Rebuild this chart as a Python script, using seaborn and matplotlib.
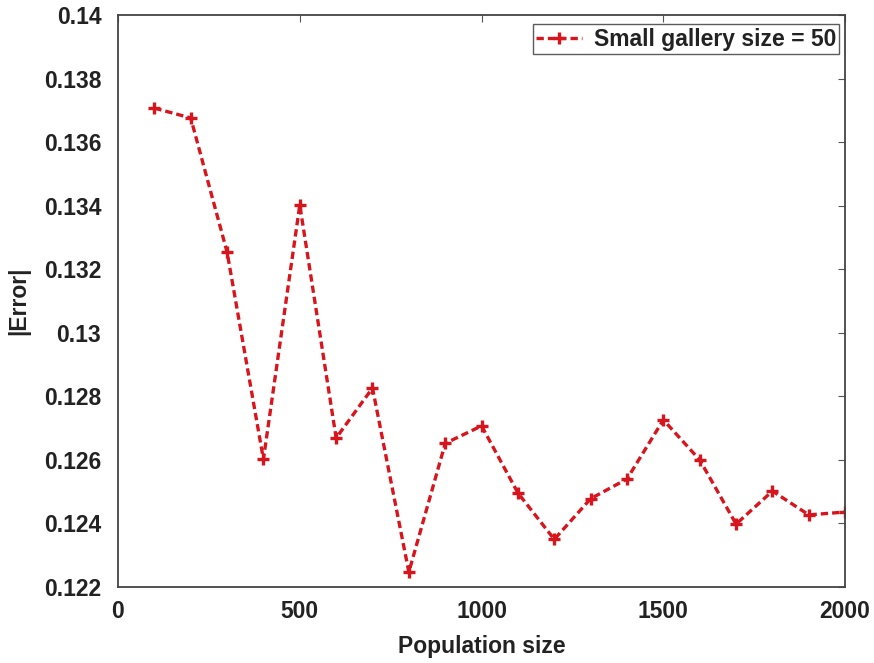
import matplotlib
matplotlib.use("Agg")
import matplotlib.pyplot as plt
import seaborn as sns
import pandas as pd

population_size = [100, 200, 300, 400, 500, 600, 700, 800, 900, 1000,
                   1100, 1200, 1300, 1400, 1500, 1600, 1700, 1800, 1900, 2000]
error_values = [0.13707, 0.13676, 0.13254, 0.12602, 0.13402, 0.12669, 0.12826, 0.12247, 0.12652, 0.12707,
                0.12496, 0.12350, 0.12478, 0.12540, 0.12726, 0.12600, 0.12398, 0.12502, 0.12427, 0.12436]
series_label = "Small gallery size = 50"
x_ticks = [0, 500, 1000, 1500, 2000]
y_ticks = [0.122, 0.124, 0.126, 0.128, 0.13, 0.132, 0.134, 0.136, 0.138, 0.14]
y_tick_labels = ["0.122", "0.124", "0.126", "0.128", "0.13", "0.132", "0.134", "0.136", "0.138", "0.14"]

sns.set_style("white")
plt.rcParams['font.family'] = ['Liberation Sans', 'DejaVu Sans']
plt.rcParams['font.weight'] = 'bold'

red = "#d8141c"
df = pd.DataFrame({"Population size": population_size, "Error": error_values, "series": series_label})

fig = plt.figure(figsize=(8.74, 6.63), dpi=100)
ax = fig.add_axes([0.135, 0.1146, 0.832, 0.8628])

sns.lineplot(data=df, x="Population size", y="Error", hue="series", palette=[red],
             marker="+", markersize=9, markeredgewidth=2.4, markeredgecolor=red,
             linewidth=2.4, ax=ax, legend=False)
line = ax.lines[0]
line.set_linestyle((0, (2.2, 1.2)))
line.set_marker('+')
line.set_markersize(9)
line.set_markeredgewidth(2.4)
line.set_markeredgecolor(red)
line.set_markerfacecolor(red)
line.set_label(series_label)

ax.set_xlim(0, 2000)
ax.set_ylim(0.122, 0.14)
ax.set_xticks(x_ticks)
ax.set_xticklabels([str(t) for t in x_ticks])
ax.set_yticks(y_ticks)
ax.set_yticklabels(y_tick_labels)
ax.tick_params(axis='both', which='both', direction='in', length=5, width=0.8,
               top=True, right=True, labelsize=16.5, colors='#555555', labelcolor='#222222')
ax.tick_params(axis='y', pad=12)
ax.tick_params(axis='x', pad=9)
for lab in ax.get_xticklabels() + ax.get_yticklabels():
    lab.set_fontweight('bold')
for sp in ax.spines.values():
    sp.set_color('#444444')
    sp.set_linewidth(1.3)

ax.set_xlabel("Population size", fontsize=16.5, fontweight='bold', color='#222222', labelpad=9)
ax.set_ylabel("|Error|", fontsize=16.5, fontweight='bold', color='#222222', labelpad=10)

leg = ax.legend(loc='upper right', fontsize=16.5, frameon=True, fancybox=False,
                handlelength=2.0, borderpad=0.15, handletextpad=0.5, borderaxespad=0,
                bbox_to_anchor=(0.992, 0.984))
leg.get_frame().set_edgecolor('#333333')
leg.get_frame().set_linewidth(1.0)
for t in leg.get_texts():
    t.set_fontweight('bold')
    t.set_color('#222222')

fig.savefig("out.png", dpi=100)
